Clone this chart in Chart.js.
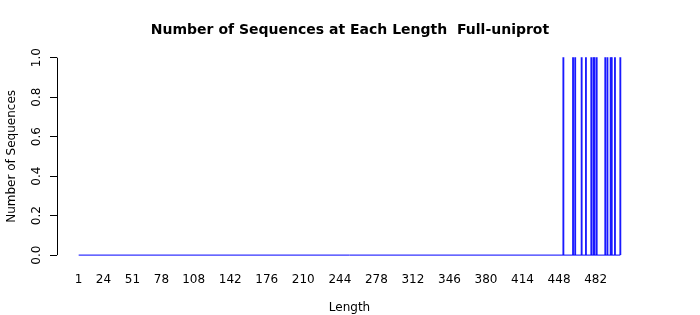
<!DOCTYPE html>
<html>
<head>
<meta charset="utf-8">
<script src="https://cdn.jsdelivr.net/npm/chart.js@4"></script>
<style>
  html, body { margin: 0; padding: 0; background: #fff; }
</style>
</head>
<body>
<canvas id="chart" width="700" height="315"></canvas>
<script>
const chartTitle = 'Number of Sequences at Each Length  Full-uniprot';
const xTitle = 'Length';
const yTitle = 'Number of Sequences';

// lengths that have sequences, and how many
const seqLengths = [452, 461, 463, 469, 473, 478, 480, 481, 483, 491, 493, 496, 497, 500, 505];
const seqCounts = [1, 1, 1, 1, 1, 1, 1, 1, 1, 1, 1, 1, 1, 1, 1];
const firstLength = 1;
const lastLength = 505;

const xTickLabels = [1, 24, 51, 78, 108, 142, 176, 210, 244, 278, 312, 346, 380, 414, 448, 482];
const yTickLabels = [0, 0.2, 0.4, 0.6, 0.8, 1.0];

const spikes = seqLengths.map((len, i) => ({ x: len, y: seqCounts[i] }));
// zero line over the whole length range
const baseline = [{ x: firstLength, y: 0 }, { x: lastLength, y: 0 }];

// R style extends the range by 4% on each side
const xPad = (lastLength - firstLength) * 0.04;
const yPad = 0.04;

const axisFont = { family: 'DejaVu Sans', size: 12 };

// draws the y axis line only between the first and last tick, like R
const yAxisLine = {
    id: 'yAxisLine',
    afterDraw(chart) {
        const y = chart.scales.y;
        const ctx = chart.ctx;
        const x = Math.round(y.right) + 0.5;
        ctx.save();
        ctx.strokeStyle = '#000';
        ctx.lineWidth = 1;
        ctx.beginPath();
        ctx.moveTo(x, y.getPixelForValue(yTickLabels[0]));
        ctx.lineTo(x, y.getPixelForValue(yTickLabels[yTickLabels.length - 1]));
        ctx.stroke();
        ctx.restore();
    }
};

new Chart(document.getElementById('chart'), {
    type: 'bar',
    data: {
        datasets: [{
            type: 'bar',
            data: spikes,
            backgroundColor: '#1a1aff',
            borderWidth: 0,
            barThickness: 1.2,
            order: 1
        }, {
            type: 'line',
            data: baseline,
            borderColor: '#0000ff',
            borderWidth: 1,
            pointRadius: 0,
            fill: false,
            order: 0
        }]
    },
    options: {
        responsive: false,
        animation: false,
        devicePixelRatio: 1,
        layout: { padding: 0 },
        plugins: {
            legend: { display: false },
            tooltip: { enabled: false },
            title: {
                display: true,
                text: chartTitle,
                color: '#000',
                font: { family: 'DejaVu Sans', size: 14, weight: 'bold' },
                padding: { top: 22, bottom: 11 }
            }
        },
        scales: {
            x: {
                type: 'linear',
                offset: false,
                min: firstLength - xPad,
                max: lastLength + xPad,
                afterBuildTicks: scale => {
                    scale.ticks = xTickLabels.map(v => ({ value: v }));
                },
                afterFit: scale => { scale.height = 52; },
                grid: { display: false, drawTicks: false },
                border: { display: false },
                ticks: {
                    color: '#000',
                    font: axisFont,
                    padding: 10,
                    maxRotation: 0,
                    autoSkip: false,
                    callback: v => String(v)
                },
                title: {
                    display: true,
                    text: xTitle,
                    color: '#000',
                    font: axisFont,
                    padding: { top: 0, bottom: 0 }
                }
            },
            y: {
                min: -yPad,
                max: 1 + yPad,
                afterBuildTicks: scale => {
                    scale.ticks = yTickLabels.map(v => ({ value: v }));
                },
                afterFit: scale => { scale.width = 57; },
                grid: {
                    drawOnChartArea: false,
                    drawTicks: true,
                    tickLength: 7,
                    color: '#000'
                },
                border: { display: false },
                ticks: {
                    color: '#000',
                    font: axisFont,
                    padding: 4,
                    minRotation: 90,
                    maxRotation: 90,
                    crossAlign: 'center',
                    callback: v => v.toFixed(1)
                },
                title: {
                    display: true,
                    text: yTitle,
                    color: '#000',
                    font: axisFont,
                    padding: { top: 5, bottom: 0 }
                }
            },
            // empty right margin, same as R's plot region
            yRight: {
                axis: 'y',
                position: 'right',
                display: true,
                afterFit: scale => { scale.width = 58; },
                grid: { display: false, drawTicks: false },
                border: { display: false },
                ticks: { display: false }
            }
        }
    },
    plugins: [yAxisLine]
});
</script>
</body>
</html>
